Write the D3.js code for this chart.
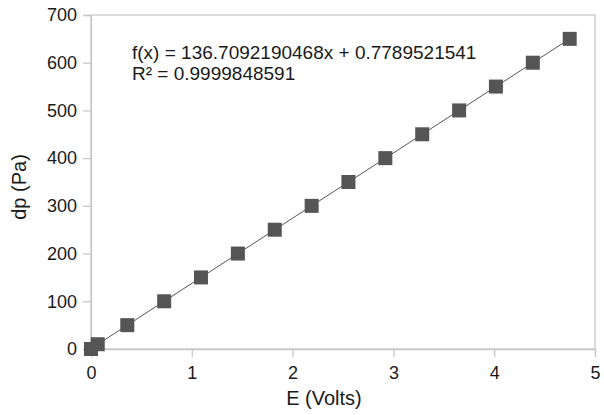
<!DOCTYPE html>
<html><head><meta charset="utf-8">
<script src="https://cdn.jsdelivr.net/npm/d3@7"></script>
<style>body{margin:0;background:#fff}svg{display:block}</style>
</head><body>
<svg id="c" width="604" height="415"></svg>
<script>
const dpValues = [0, 10, 50, 100, 150, 200, 250, 300, 350, 400, 450, 500, 550, 600, 650];
const eValues = [0.0, 0.067, 0.36, 0.726, 1.091, 1.457, 1.823, 2.189, 2.554, 2.92, 3.286, 3.652, 4.017, 4.383, 4.749];
const xTicks = [0, 1, 2, 3, 4, 5];
const yTicks = [0, 100, 200, 300, 400, 500, 600, 700];
const slope = 136.7092190468, intercept = 0.7789521541;
const eqLines = ["f(x) = 136.7092190468x + 0.7789521541", "R² = 0.9999848591"];

const svg = d3.select("#c");
const L = 91, R = 595, T = 15, B = 349;
const x = d3.scaleLinear().domain([0, 5]).range([L, R]);
const y = d3.scaleLinear().domain([0, 700]).range([B, T]);
const font = "Liberation Sans, Arial, sans-serif";
const frame = "#c8c8c8";
const ink = "#1a1a1a";

svg.append("rect").attr("x", L).attr("y", T).attr("width", R - L).attr("height", B - T)
  .attr("fill", "none").attr("stroke", frame).attr("stroke-width", 1.3);

const xa = svg.append("g").attr("transform", `translate(0,${B})`)
  .call(d3.axisBottom(x).tickValues(xTicks).tickFormat(d3.format("d")).tickSize(8).tickPadding(9));
const ya = svg.append("g").attr("transform", `translate(${L},0)`)
  .call(d3.axisLeft(y).tickValues(yTicks).tickFormat(d3.format("d")).tickSize(8).tickPadding(6));
[xa, ya].forEach(a => {
  a.select(".domain").attr("stroke", frame).attr("stroke-width", 1.3);
  a.selectAll(".tick line").attr("stroke", frame).attr("stroke-width", 1.3);
  a.selectAll(".tick text").attr("fill", ink).style("font-family", font).style("font-size", "18px");
});

// trend line
const e0 = 0, e1 = d3.max(eValues);
svg.append("line")
  .attr("x1", x(e0)).attr("y1", y(slope * e0 + intercept))
  .attr("x2", x(e1)).attr("y2", y(slope * e1 + intercept))
  .attr("stroke", "#555").attr("stroke-width", 1);

const s = 14;
svg.append("g").selectAll("rect").data(eValues.map((e, i) => [e, dpValues[i]])).join("rect")
  .attr("x", d => x(d[0]) - s / 2).attr("y", d => y(d[1]) - s / 2)
  .attr("width", s).attr("height", s).attr("fill", "#555");

svg.append("text").attr("x", 324).attr("y", 405).attr("text-anchor", "middle")
  .style("font-family", font).style("font-size", "20px").attr("fill", ink).text("E (Volts)");
svg.append("text").attr("transform", "translate(26,187) rotate(-90)").attr("text-anchor", "middle")
  .style("font-family", font).style("font-size", "20px").attr("fill", ink).text("dp (Pa)");

eqLines.forEach((t, i) => {
  svg.append("text").attr("x", 132).attr("y", 59 + i * 21)
    .style("font-family", font).style("font-size", "19px").attr("fill", ink).text(t);
});
</script>
</body></html>
